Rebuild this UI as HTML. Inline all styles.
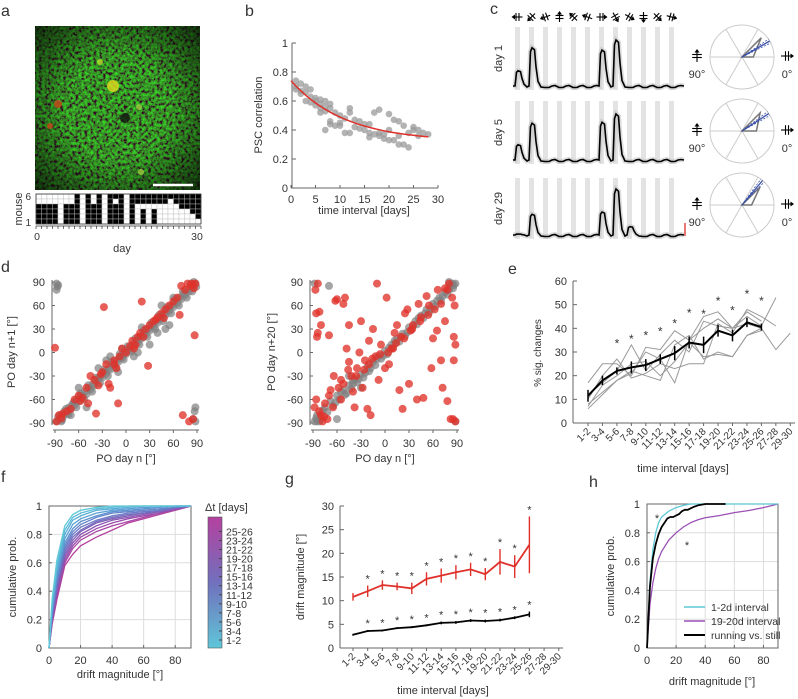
<!DOCTYPE html>
<html><head><meta charset="utf-8">
<style>
html,body{margin:0;padding:0;background:#fff;}
svg{display:block;font-family:"Liberation Sans",sans-serif;}
text{fill:#333;}
</style></head>
<body>
<svg id="fig" xmlns="http://www.w3.org/2000/svg" width="798" height="699" viewBox="0 0 798 699">
<defs>
<filter id="tex" x="0" y="0" width="100%" height="100%">
<feTurbulence type="fractalNoise" baseFrequency="0.33" numOctaves="3" seed="5"/>
<feColorMatrix values="0 0 0 0 0.04  0 0 0 1.5 -0.45  0 0 0 0 0.02  0 0 0 0 1"/>
</filter>
<linearGradient id="cbar" x1="0" y1="0" x2="0" y2="1">
<stop offset="0" stop-color="#b4419f"/><stop offset="0.5" stop-color="#7170bd"/><stop offset="1" stop-color="#5fc6d8"/>
</linearGradient>
<radialGradient id="vign" cx="0.5" cy="0.5" r="0.7">
<stop offset="0.45" stop-color="#000" stop-opacity="0"/><stop offset="1" stop-color="#000" stop-opacity="0.7"/>
</radialGradient>
</defs>
<g font-size="16">
<text x="1" y="16">a</text>
<text x="245" y="16">b</text>
<text x="490" y="14">c</text>
<text x="1" y="272">d</text>
<text x="508" y="274">e</text>
<text x="1" y="482">f</text>
<text x="285" y="484">g</text>
<text x="589" y="487">h</text>
</g>
<g>
<rect x="35" y="26" width="165" height="164" fill="#1f5a14"/>
<rect x="35" y="26" width="165" height="164" filter="url(#tex)" opacity="0.95"/>
<rect x="35" y="26" width="165" height="164" fill="url(#vign)"/>
<circle cx="113" cy="86" r="6" fill="#d8d820" opacity="0.85"/>
<circle cx="100" cy="62" r="3" fill="#b8d830" opacity="0.8"/>
<circle cx="58" cy="104" r="4" fill="#c04a1a" opacity="0.85"/>
<circle cx="50" cy="126" r="3" fill="#c04a1a" opacity="0.85"/>
<circle cx="139" cy="107" r="3" fill="#a0c840" opacity="0.8"/>
<circle cx="141" cy="172" r="3" fill="#a0c840" opacity="0.8"/>
<circle cx="125" cy="118" r="5" fill="#111" opacity="0.8"/>
<line x1="153" y1="185" x2="193" y2="185" stroke="#fff" stroke-width="2.5"/>
</g>
<g id="gA"></g>
<text x="22" y="209" font-size="11" transform="rotate(-90 22 209)" text-anchor="middle">mouse</text>
<text x="31" y="200" font-size="10" text-anchor="end">6</text>
<text x="31" y="226" font-size="10" text-anchor="end">1</text>
<text x="37" y="240" font-size="10.5" text-anchor="middle">0</text>
<text x="197" y="240" font-size="10.5" text-anchor="middle">30</text>
<text x="122" y="252" font-size="11" text-anchor="middle">day</text>

<text x="262" y="115" font-size="11" transform="rotate(-90 262 115)" text-anchor="middle">PSC correlation</text>
<text x="364" y="214" font-size="11" text-anchor="middle">time interval [days]</text>

<text x="15" y="352" font-size="11" transform="rotate(-90 15 352)" text-anchor="middle">PO day n+1 [°]</text>
<text x="126" y="462" font-size="11" text-anchor="middle">PO day n [°]</text>
<text x="275" y="352" font-size="11" transform="rotate(-90 275 352)" text-anchor="middle">PO day n+20 [°]</text>
<text x="385" y="462" font-size="11" text-anchor="middle">PO day n [°]</text>

<text x="541" y="353" font-size="10" transform="rotate(-90 541 353)" text-anchor="middle">% sig. changes</text>
<text x="683" y="472" font-size="11" text-anchor="middle">time interval [days]</text>

<text x="16" y="577" font-size="11" transform="rotate(-90 16 577)" text-anchor="middle">cumulative prob.</text>
<text x="120" y="678" font-size="11" text-anchor="middle">drift magnitude [°]</text>
<text x="205" y="511" font-size="11">Δt [days]</text>
<rect x="208" y="517" width="14" height="131" fill="url(#cbar)" stroke="#555" stroke-width="0.6"/>

<text x="304" y="577" font-size="11" transform="rotate(-90 304 577)" text-anchor="middle">drift magnitude [°]</text>
<text x="443" y="694" font-size="11" text-anchor="middle">time interval [days]</text>

<text x="614" y="576" font-size="11" transform="rotate(-90 614 576)" text-anchor="middle">cumulative prob.</text>
<text x="712" y="685" font-size="11" text-anchor="middle">drift magnitude [°]</text>
</svg>
<script>
const NS='http://www.w3.org/2000/svg';
const svg=document.getElementById('fig');
function add(tag,attrs,parent){const e=document.createElementNS(NS,tag);for(const k in attrs)e.setAttribute(k,attrs[k]);(parent||svg).appendChild(e);return e;}

/* ---------- panel a data ---------- */
const mouseRows=[
"000000010101011101111111111111",
"000000010101010101111111011111",
"111101110111011101000000001111",
"111101110111011101010100000011",
"111101110111011101010100000001",
"111101110111011101010100000000"];

/* ---------- panel b data ---------- */
const bDays=[1,1,1,2,2,2,3,3,3,4,4,4,5,5,5,6,6,6,6,7,7,7,7,8,8,8,8,9,9,10,10,10,11,11,12,12,12,13,13,14,14,15,15,16,16,16,17,17,18,18,18,19,19,20,20,20,21,21,22,22,22,23,23,24,24,25,25,26,26,27,28];
const bCorr=[0.74,0.70,0.68,0.72,0.67,0.65,0.70,0.66,0.60,0.68,0.63,0.59,0.62,0.60,0.57,0.61,0.58,0.55,0.52,0.60,0.56,0.53,0.40,0.58,0.55,0.46,0.44,0.52,0.43,0.50,0.45,0.43,0.48,0.38,0.55,0.52,0.38,0.47,0.42,0.46,0.41,0.44,0.40,0.44,0.38,0.35,0.52,0.37,0.54,0.38,0.36,0.37,0.34,0.51,0.40,0.33,0.47,0.33,0.46,0.36,0.30,0.43,0.30,0.38,0.28,0.42,0.40,0.40,0.36,0.38,0.37];
const bFit=[0.32,0.42,11];

/* ---------- panel c data ---------- */
const cDirs=[180,225,200,90,135,160,0,300,330,270,315,345];
const cDays=['day 1','day 5','day 29'];
const cResp=[[0.33,0.83,0,0,0,0,0.78,1,0,0,0,0],[0.33,0.8,0,0,0,0,0.82,1,0,0,0,0],[0.02,0.45,0,0,0,0,0.5,1,0.18,0,0,0]];
const cPO=[30,33,50];
const cTuneAng=[0,45];
const cTuneR=[[0.35,0.85],[0.45,0.8],[0.3,0.8]];

/* ---------- panel d data ---------- */
const d1Gray=[[-88,-88],[-85,-86],[-83,-80],[-80,-82],[-78,-75],[-75,-78],[-72,-70],[-70,-72],[-68,-66],[-65,-67],[-62,-60],[-60,-62],[-57,-55],[-55,-57],[-52,-50],[-50,-53],[-47,-45],[-45,-47],[-42,-40],[-40,-42],[-37,-36],[-35,-33],[-32,-30],[-30,-32],[-27,-25],[-25,-27],[-22,-20],[-20,-22],[-17,-15],[-15,-17],[-12,-10],[-10,-12],[-7,-5],[-5,-7],[-2,0],[0,-2],[3,5],[5,3],[8,10],[10,8],[13,15],[15,13],[18,20],[20,18],[23,25],[25,23],[28,30],[30,28],[33,35],[35,33],[38,40],[40,38],[43,45],[45,43],[48,50],[50,48],[53,55],[55,53],[58,60],[60,58],[63,65],[65,63],[68,70],[70,68],[73,75],[75,73],[78,80],[80,78],[83,85],[85,83],[88,88],[86,90],[-88,88],[-87,84],[-86,86],[-88,80],[88,-88],[87,-75],[85,-85],[88,-70],[-20,-5],[-25,-10],[30,10],[10,-5],[40,25],[55,35],[-10,-25],[-60,-45],[-50,-70],[-82,-88],[-70,-80],[60,70],[45,60],[20,32],[-5,5],
[-86,-82],[-81,-86],[-76,-72],[-73,-79],[-66,-63],[-63,-70],[-58,-52],[-53,-60],[-48,-42],[-43,-50],[-38,-32],[-33,-39],[-28,-22],[-23,-30],[-18,-12],[-13,-20],[-8,-2],[-3,-9],[2,8],[7,1],[12,18],[17,10],[22,28],[27,20],[32,38],[37,30],[42,48],[47,40],[52,58],[57,50],[62,68],[67,60],[72,78],[77,70],[82,88],[84,78],[89,84],[50,30],[-35,-20],[15,0]];
const d1Red=[[-88,-88],[-85,-80],[-80,-78],[-75,-75],[-70,-72],[-65,-60],[-60,-55],[-55,-58],[-50,-45],[-48,-65],[-45,-30],[-40,-35],[-38,-78],[-35,-42],[-30,-25],[-28,58],[-25,-15],[-22,-40],[-20,-45],[-15,-10],[-12,-20],[-10,-65],[-8,-5],[-5,5],[0,0],[5,8],[8,15],[10,5],[15,20],[18,25],[20,65],[22,20],[25,30],[28,-17],[30,35],[35,40],[38,42],[40,45],[45,50],[50,55],[55,60],[60,65],[65,70],[68,48],[70,85],[72,-80],[75,80],[78,88],[80,-88],[82,85],[85,-85],[87,22],[88,88],[-90,6],[-15,-15],[84,88],[86,82],[-82,-84],[-58,-62],[-32,-28],[12,10],[48,44]];
const d2Gray=[[-88,-88],[-85,-80],[-80,-84],[-75,-70],[-72,-76],[-68,-62],[-65,-68],[-60,-55],[-57,-60],[-52,-48],[-50,-54],[-45,-42],[-42,-46],[-38,-34],[-35,-38],[-30,-28],[-27,-32],[-22,-18],[-20,-24],[-15,-12],[-12,-16],[-8,-4],[-5,-8],[0,2],[3,-2],[8,10],[10,6],[15,17],[18,14],[22,24],[25,21],[30,32],[33,29],[38,40],[40,36],[45,47],[48,44],[52,55],[55,51],[60,62],[63,59],[68,70],[70,66],[75,77],[78,74],[82,85],[85,82],[88,88],[-88,88],[-70,85],[88,-88],[-45,-30],[-60,-85],[-30,-45],[-85,-88],[80,90],[-40,-40],[12,15],
[-86,-84],[-78,-74],[-62,-64],[-55,-50],[-48,-52],[-40,-36],[-33,-34],[-25,-26],[-18,-20],[-10,-8],[-2,-4],[5,6],[13,12],[20,20],[28,26],[35,34],[42,44],[50,50],[58,56],[65,66],[72,72],[80,80],[86,86],[84,88],[-82,-88]];
const d2Red=[[-88,-70],[-87,80],[-86,50],[-85,20],[-84,25],[-82,52],[-80,35],[-80,-80],[-78,-88],[-75,-65],[-72,-85],[-70,22],[-68,-48],[-62,66],[-60,68],[-55,-35],[-55,-60],[-52,62],[-50,70],[-48,5],[-45,35],[-45,-12],[-42,-30],[-40,-50],[-38,-70],[-35,-20],[-32,0],[-30,40],[-28,-45],[-25,-10],[-22,-72],[-20,15],[-18,-80],[-15,30],[-12,-5],[-10,88],[-8,-35],[-5,10],[0,-20],[2,70],[5,-15],[8,5],[12,25],[15,35],[18,-48],[20,20],[22,-72],[25,50],[28,55],[30,-40],[32,28],[35,35],[40,-60],[42,62],[45,45],[48,-58],[52,72],[55,60],[58,-20],[60,18],[65,28],[70,-10],[72,-45],[75,82],[78,-62],[80,88],[82,-85],[85,-85],[86,20],[88,10],[88,-88],[-84,88],[-65,-70],[-20,-15],[10,5],
[-86,-60],[-82,-75],[-76,-82],[-70,-55],[-58,-45],[-52,-40],[-46,-22],[-36,-30],[-26,-22],[-16,-8],[-6,-2],[4,0],[14,12],[24,18],[34,30],[44,40],[54,48],[62,55],[70,62],[78,80],[84,70],[87,60],[86,-10],[75,40],[66,80],[-64,-30]];
const dTicks=[-90,-60,-30,0,30,60,90];

/* ---------- panel e data ---------- */
const intervals=['1-2','3-4','5-6','7-8','9-10','11-12','13-14','15-16','17-18','19-20','21-22','23-24','25-26','27-28','29-30'];
const eMean=[11.5,18,22,23.5,24.5,27,29.5,34,33,39,37,42.5,40.5];
const eErr=[2.5,2,1.5,2.5,2.5,2,3,2.5,3.5,2.5,2.5,2,1.5];
const eStarVal=[null,null,34,36,37.5,39,42.5,47,46.5,52,48,55,52];
const eMice=[
[17,25,25,20,32,31,39,35,45,47,40,47,43,null,null],
[8,13,18,22,20,18,33,37,27,30,28,37,40,31,38],
[6,12,18,21,30,27,17,35,40,44,40,45,41,53,null],
[10,20,27,19,21,25,23,25,25,42,38,48,45,41,null],
[12,17,22,33,22,29,35,30,43,41,40,42,40,null,null],
[7,16,20,25,26,20,26,34,28,29,28,37,39,null,null]];
const eTicks=[0,10,20,30,40,50,60];

/* ---------- panel f data ---------- */
const fX=[0,2,5,10,15,20,30,40,50,60,70,80,90];
const fCurves=[
[0,0.35,0.62,0.86,0.94,0.97,0.99,1,1,1,1,1,1],
[0,0.33,0.58,0.83,0.92,0.95,0.98,0.99,1,1,1,1,1],
[0,0.3,0.55,0.8,0.9,0.93,0.97,0.98,0.99,1,1,1,1],
[0,0.28,0.52,0.77,0.87,0.91,0.95,0.97,0.98,0.99,0.99,1,1],
[0,0.26,0.5,0.74,0.84,0.89,0.93,0.96,0.97,0.98,0.99,1,1],
[0,0.25,0.48,0.72,0.82,0.87,0.92,0.95,0.96,0.97,0.98,0.99,1],
[0,0.24,0.46,0.7,0.8,0.85,0.9,0.93,0.95,0.96,0.97,0.99,1],
[0,0.22,0.44,0.68,0.78,0.83,0.89,0.92,0.94,0.95,0.97,0.99,1],
[0,0.21,0.42,0.66,0.76,0.82,0.88,0.91,0.93,0.95,0.96,0.98,1],
[0,0.2,0.4,0.64,0.74,0.8,0.86,0.9,0.92,0.94,0.96,0.98,1],
[0,0.19,0.38,0.62,0.72,0.78,0.84,0.88,0.91,0.93,0.95,0.98,1],
[0,0.18,0.36,0.6,0.7,0.76,0.82,0.86,0.89,0.92,0.95,0.97,1],
[0,0.17,0.34,0.58,0.66,0.72,0.78,0.83,0.88,0.91,0.94,0.97,1]];
const fColors=['#5ec8d8','#5cbbd8','#5aaed6','#5aa0d4','#5d92d0','#6384cb','#6b78c4','#746cbf','#7e60b8','#8a55b2','#9a4cab','#a845a5','#b4419f'];
const fLabels=['1-2','3-4','5-6','7-8','9-10','11-12','13-14','15-16','17-18','19-20','21-22','23-24','25-26'];
const cdfTicksY=[0,0.2,0.4,0.6,0.8,1];
const cdfTicksX=[0,20,40,60,80];

/* ---------- panel g data ---------- */
const gRed=[10.8,12,13.3,13,12.6,14.6,15.3,16,16.6,15.6,18.2,17.2,21.8];
const gRedErr=[0.8,1.2,1,0.8,1.2,1.4,1.5,1.5,1.4,1.3,2.7,2.4,6];
const gBlack=[2.8,3.6,3.7,4.2,4.4,4.8,5.3,5.4,5.8,5.7,5.9,6.4,7.1];
const gBlackErr=[0.2,0.2,0.2,0.2,0.2,0.2,0.3,0.3,0.3,0.3,0.3,0.3,0.6];
const gTicks=[0,5,10,15,20,25,30];

/* ---------- panel h data ---------- */
const hX=[0,2,4,6,8,10,15,20,25,30,35,40,50,60,70,80,90];
const hCyan=[0,0.45,0.68,0.8,0.87,0.91,0.95,0.975,0.99,1,1,1,1,1,1,1,1];
const hPurple=[0,0.3,0.45,0.55,0.62,0.67,0.75,0.8,0.84,0.87,0.89,0.905,0.92,0.94,0.955,0.975,1];
const hBlackX=[0,2,4,6,8,10,12,14,16,18,20,22,24,26,28,30,32,35,40,54];
const hBlack=[0,0.42,0.62,0.72,0.79,0.84,0.87,0.9,0.91,0.91,0.92,0.93,0.95,0.96,0.96,0.97,0.98,0.99,1,1];
const hLegend=['1-2d interval','19-20d interval','running vs. still'];
const hColors=['#5ec8d8','#9b50b5','#000'];

function scale(d0,d1,r0,r1){return v=>r0+(v-d0)/(d1-d0)*(r1-r0);}
const AX='#666';

/* ===== panel a grid ===== */
{
const g=document.getElementById('gA');
const x0=36,y0=194,cw=165/30,rh=30/6;
mouseRows.forEach((row,ri)=>{
 for(let ci=0;ci<30;ci++){
  const r=add('rect',{x:x0+ci*cw,y:y0+ri*rh,width:cw,height:rh,fill:row[ci]==='1'?'#000':'#fff',stroke:'#bbb','stroke-width':0.4},g);
  
  
 }
});
const fr=add('rect',{x:x0,y:y0,width:165,height:30,fill:'none',stroke:'#333','stroke-width':0.8},g);


for(let i=0;i<=30;i++){
 const t=add('line',{x1:x0+i*cw,y1:226,x2:x0+i*cw,y2:229,stroke:'#333','stroke-width':0.7},g);
 
 
}
const ax=add('line',{x1:x0,y1:226,x2:x0+165,y2:226,stroke:'#333','stroke-width':0.8},g);


}

/* ===== panel b ===== */
{
const sx=scale(0,30,291,438),sy=scale(0,1,188,43);
const g=add('g',{});


const ya=add('line',{x1:292,y1:43,x2:292,y2:188,stroke:AX},g);


const xa=add('line',{x1:291,y1:188,x2:438,y2:188,stroke:AX},g);


[0,0.2,0.4,0.6,0.8,1].forEach(v=>{
 const t=add('line',{x1:292,y1:sy(v),x2:296,y2:sy(v),stroke:AX},g);
 
 
 const l=add('text',{x:288,y:sy(v)+4,'font-size':11,'text-anchor':'end'},g);l.textContent=String(v);
 
 
});
[0,5,10,15,20,25,30].forEach(v=>{
 const t=add('line',{x1:sx(v),y1:188,x2:sx(v),y2:185,stroke:AX},g);
 
 
 const l=add('text',{x:sx(v),y:203,'font-size':11,'text-anchor':'middle'},g);l.textContent=String(v);
 
 
});
bDays.forEach((d,i)=>{
 const c=add('circle',{cx:sx(d),cy:sy(bCorr[i]),r:3.3,fill:'#999','fill-opacity':0.75},g);
 
 
});
let p='';
for(let t=0;t<=28;t+=0.5){const v=bFit[0]+bFit[1]*Math.exp(-t/bFit[2]);p+=(t?'L':'M')+sx(t).toFixed(1)+','+sy(v).toFixed(1);}
const fit=add('path',{d:p,fill:'none',stroke:'#e0302a','stroke-width':1.5},g);


}

/* ===== panel c ===== */
function icon(cx,cy,ang,s,parent){
 const g=add('g',{transform:`translate(${cx},${cy}) rotate(${-ang})`,stroke:'#000','stroke-width':1.1,fill:'#000'},parent);
 add('line',{x1:-s,y1:0,x2:s,y2:0},g);
 add('line',{x1:-1.5,y1:-s*0.8,x2:-1.5,y2:s*0.8},g);
 add('line',{x1:1.5,y1:-s*0.8,x2:1.5,y2:s*0.8},g);
 add('path',{d:`M${s+1},0 L${s-2.5},-2.5 L${s-2.5},2.5Z`,stroke:'none'},g);
 return g;
}
{
const g=add('g',{});


cDirs.forEach((d,i)=>{
 const ic=icon(517.5+i*14,17,d,5,g);
 
 
});
const rowTop=[27,101,178],rowBot=[90,164,239];
cDays.forEach((day,di)=>{
 const base=rowBot[di]-4;
 for(let i=0;i<12;i++){
  const b=add('rect',{x:515+i*14,y:rowTop[di],width:5,height:rowBot[di]-rowTop[di],fill:'#e3e3e3'},g);
  
  
 }
 let p='M513,'+base;
 for(let i=0;i<12;i++){
  const x=515+i*14,a=cResp[di][i]*46;
  if(a>0.5){p+=` L${x},${base} L${x+1.5},${base-a*0.9} L${x+3},${base-a} L${x+5.5},${base-a*0.95} L${x+7},${base-a*0.5} L${x+9},${base-a*0.12} L${x+12},${base+1}`;}
  else{p+=` L${x+2},${base+1.5} L${x+6},${base+1.5} L${x+9},${base} L${x+12},${base-0.5}`;}
 }
 p+=' L684,'+base;
 const sh=add('path',{d:p,fill:'none',stroke:'#bbb','stroke-width':5,'stroke-opacity':0.5},g);
 
 
 const tr=add('path',{d:p,fill:'none',stroke:'#000','stroke-width':1.6},g);
 
 
 const ly=(rowTop[di]+rowBot[di])/2;
 const lb=add('text',{x:502,y:ly,'font-size':11,'text-anchor':'middle',transform:`rotate(-90 502 ${ly})`},g);lb.textContent=day;
 
 
 const cx=742,cy=[57,131,205][di],R=32;
 const circ=add('circle',{cx:cx,cy:cy,r:R,fill:'none',stroke:'#ccc'},g);
 
 
 [0,60,120].forEach(a=>{
  const rad=a*Math.PI/180;
  const s=add('line',{x1:cx-R*Math.cos(rad),y1:cy+R*Math.sin(rad),x2:cx+R*Math.cos(rad),y2:cy-R*Math.sin(rad),stroke:'#ccc'},g);
  
  
 });
 let tp='M'+cx+','+cy;
 cTuneAng.forEach((a,k)=>{const rad=a*Math.PI/180,r=cTuneR[di][k]*R;tp+=` L${(cx+r*Math.cos(rad)).toFixed(1)},${(cy-r*Math.sin(rad)).toFixed(1)}`;});
 tp+='Z';
 const tun=add('path',{d:tp,fill:'none',stroke:'#777','stroke-width':1.5},g);
 
 
 [-4,0,4].forEach(o=>{
  const rad=(cPO[di]+o)*Math.PI/180;
  const l=add('line',{x1:cx,y1:cy,x2:cx+R*Math.cos(rad),y2:cy-R*Math.sin(rad),stroke:'#3a4fa8','stroke-width':o?0.8:1.3,'stroke-dasharray':o?'2,1.5':'none'},g);
  
  
 });
 const i1=icon(697,cy-1,90,6,g);
 
 
 const i2=icon(787,cy-1,0,6,g);
 
 
 const t90=add('text',{x:697,y:cy+21,'font-size':11,'text-anchor':'middle'},g);t90.textContent='90°';
 
 
 const t0=add('text',{x:787,y:cy+21,'font-size':11,'text-anchor':'middle'},g);t0.textContent='0°';
 
 
});
const sb=add('line',{x1:685,y1:223,x2:685,y2:236,stroke:'#e0302a','stroke-width':1.3},g);


}

/* ===== panel d ===== */
function scatter(xL,xR,yAxisX,gray,red,name){
 const sx=scale(-90,90,xL,xR),sy=scale(-90,90,423,282);
 const g=add('g',{});
 
 
 const ya=add('line',{x1:yAxisX,y1:280,x2:yAxisX,y2:425,stroke:AX},g);
 
 
 const xa=add('line',{x1:xL-2,y1:430,x2:xR+2,y2:430,stroke:AX},g);
 
 
 dTicks.forEach(v=>{
  const t=add('line',{x1:yAxisX,y1:sy(v),x2:yAxisX+3,y2:sy(v),stroke:AX},g);
  
  
  const l=add('text',{x:yAxisX-7,y:sy(v)+4,'font-size':11,'text-anchor':'end'},g);l.textContent=String(v);
  
  
  const t2=add('line',{x1:sx(v),y1:430,x2:sx(v),y2:433,stroke:AX},g);
  
  
  const l2=add('text',{x:sx(v),y:447,'font-size':11,'text-anchor':'middle'},g);l2.textContent=String(v);
  
  
 });
 gray.forEach(p=>{
  const c=add('circle',{cx:sx(p[0]),cy:sy(p[1]),r:4,fill:'#7f7f7f','fill-opacity':0.7},g);
  
  
 });
 red.forEach(p=>{
  const c=add('circle',{cx:sx(p[0]),cy:sy(p[1]),r:4,fill:'#e0322a','fill-opacity':0.78},g);
  
  
 });
}
scatter(55,197,52,d1Gray,d1Red,'scatter-day-n1');
scatter(313,457,310,d2Gray,d2Red,'scatter-day-n20');

/* ===== panel e ===== */
{
const sx=i=>588+i*14.45,sy=scale(0,60,423,281);
const g=add('g',{});


const ya=add('line',{x1:573,y1:281,x2:573,y2:423,stroke:AX},g);


const xa=add('line',{x1:573,y1:423,x2:795,y2:423,stroke:AX},g);


eTicks.forEach(v=>{
 const t=add('line',{x1:573,y1:sy(v),x2:577,y2:sy(v),stroke:AX},g);
 
 
 const l=add('text',{x:567,y:sy(v)+4,'font-size':11,'text-anchor':'end'},g);l.textContent=String(v);
 
 
});
intervals.forEach((s,i)=>{
 const t=add('line',{x1:sx(i),y1:423,x2:sx(i),y2:426,stroke:AX},g);
 
 
 const l=add('text',{x:sx(i)+3,y:432,'font-size':10,'text-anchor':'end',transform:`rotate(-45 ${sx(i)+3} 432)`},g);l.textContent=s;
 
 
});
eMice.forEach(m=>{
 let p='',pen=false;
 m.forEach((v,i)=>{if(v==null){pen=false;return;}p+=(pen?'L':'M')+sx(i).toFixed(1)+','+sy(v).toFixed(1);pen=true;});
 const l=add('path',{d:p,fill:'none',stroke:'#999','stroke-width':1},g);
 
 
});
let p='';
eMean.forEach((v,i)=>{p+=(i?'L':'M')+sx(i).toFixed(1)+','+sy(v).toFixed(1);});
const ml=add('path',{d:p,fill:'none',stroke:'#000','stroke-width':2},g);


eMean.forEach((v,i)=>{
 const e=add('line',{x1:sx(i),y1:sy(v-eErr[i]),x2:sx(i),y2:sy(v+eErr[i]),stroke:'#000','stroke-width':1.5},g);
 
 
 if(eStarVal[i]!=null){
  const s=add('text',{x:sx(i),y:sy(eStarVal[i])+5,'font-size':12,'text-anchor':'middle'},g);s.textContent='*';
  
  
 }
});
}

/* ===== cdf frame helper ===== */
function cdfFrame(x0,x1,y0,y1,g){
 const sx=scale(0,90,x0,x1),sy=scale(0,1,y0,y1);
 cdfTicksX.slice(1).forEach(v=>{
  const gl=add('line',{x1:sx(v),y1:y1,x2:sx(v),y2:y0,stroke:'#ddd'},g);
  
  
 });
 cdfTicksY.slice(1,5).forEach(v=>{
  const gl=add('line',{x1:x0,y1:sy(v),x2:x1,y2:sy(v),stroke:'#ddd'},g);
  
  
 });
 const fr=add('rect',{x:x0,y:y1,width:x1-x0,height:y0-y1,fill:'none',stroke:AX},g);
 
 
 cdfTicksY.forEach(v=>{
  const t=add('line',{x1:x0,y1:sy(v),x2:x0+3,y2:sy(v),stroke:AX},g);
  
  
  const l=add('text',{x:x0-7,y:sy(v)+4,'font-size':11,'text-anchor':'end'},g);l.textContent=String(v);
  
  
 });
 cdfTicksX.forEach(v=>{
  const t=add('line',{x1:sx(v),y1:y0,x2:sx(v),y2:y0-3,stroke:AX},g);
  
  
  const l=add('text',{x:sx(v),y:y0+16,'font-size':11,'text-anchor':'middle'},g);l.textContent=String(v);
  
  
 });
 return [sx,sy];
}

/* ===== panel f ===== */
{
const g=add('g',{});


const [sx,sy]=cdfFrame(49,191,648,506,g);
for(let k=fCurves.length-1;k>=0;k--){
 let p='';
 fCurves[k].forEach((v,i)=>{p+=(i?'L':'M')+sx(fX[i]).toFixed(1)+','+sy(v).toFixed(1);});
 const l=add('path',{d:p,fill:'none',stroke:fColors[k],'stroke-width':1.3},g);
 
 
}
fLabels.forEach((s,i)=>{
 const y=640-i*9.05;
 const l=add('text',{x:226,y:y+4,'font-size':10.5},g);l.textContent=s;
 
 
 const t=add('line',{x1:219,y1:y,x2:222,y2:y,stroke:'#444'},g);
 
 
});
}

/* ===== panel g ===== */
{
const sx=i=>353+i*14.7,sy=scale(0,30,648,506);
const g=add('g',{});


const ya=add('line',{x1:340,y1:506,x2:340,y2:648,stroke:AX},g);


const xa=add('line',{x1:340,y1:648,x2:563,y2:648,stroke:AX},g);


gTicks.forEach(v=>{
 const t=add('line',{x1:340,y1:sy(v),x2:344,y2:sy(v),stroke:AX},g);
 
 
 const l=add('text',{x:334,y:sy(v)+4,'font-size':11,'text-anchor':'end'},g);l.textContent=String(v);
 
 
});
intervals.forEach((s,i)=>{
 const t=add('line',{x1:sx(i),y1:648,x2:sx(i),y2:651,stroke:AX},g);
 
 
 const l=add('text',{x:sx(i)+3,y:657,'font-size':10,'text-anchor':'end',transform:`rotate(-45 ${sx(i)+3} 657)`},g);l.textContent=s;
 
 
});
[[gRed,gRedErr,'#e0302a','running'],[gBlack,gBlackErr,'#000','still']].forEach(([m,er,col,nm])=>{
 let p='';
 m.forEach((v,i)=>{p+=(i?'L':'M')+sx(i).toFixed(1)+','+sy(v).toFixed(1);});
 const l=add('path',{d:p,fill:'none',stroke:col,'stroke-width':1.8},g);
 
 
 m.forEach((v,i)=>{
  const e=add('line',{x1:sx(i),y1:sy(v-er[i]),x2:sx(i),y2:sy(v+er[i]),stroke:col,'stroke-width':1.4},g);
  
  
  if(i>0){
   const s=add('text',{x:sx(i),y:sy(v+er[i])-3,'font-size':11,'text-anchor':'middle',fill:col},g);s.textContent='*';
   
   
  }
 });
});
}

/* ===== panel h ===== */
{
const g=add('g',{});


const [sx,sy]=cdfFrame(647,778,648,504,g);
const series=[[hX,hPurple,1],[hX,hCyan,0],[hBlackX,hBlack,2]];
series.forEach(([xs,ys,k])=>{
 let p='';
 ys.forEach((v,i)=>{p+=(i?'L':'M')+sx(xs[i]).toFixed(1)+','+sy(v).toFixed(1);});
 const l=add('path',{d:p,fill:'none',stroke:hColors[k],'stroke-width':k===2?1.8:1.3},g);
 
 
});
const s1=add('text',{x:657,y:522,'font-size':11,'text-anchor':'middle',fill:'#5ec8d8'},g);s1.textContent='*';


const s2=add('text',{x:687,y:549,'font-size':11,'text-anchor':'middle',fill:'#9b50b5'},g);s2.textContent='*';


hLegend.forEach((s,i)=>{
 const y=607+i*14;
 const l=add('line',{x1:684,y1:y,x2:705,y2:y,stroke:hColors[i],'stroke-width':i===2?2:1.4},g);
 
 
 const t=add('text',{x:711,y:y+4,'font-size':10.5},g);t.textContent=s;
 
 
});
}
</script>
</body></html>
